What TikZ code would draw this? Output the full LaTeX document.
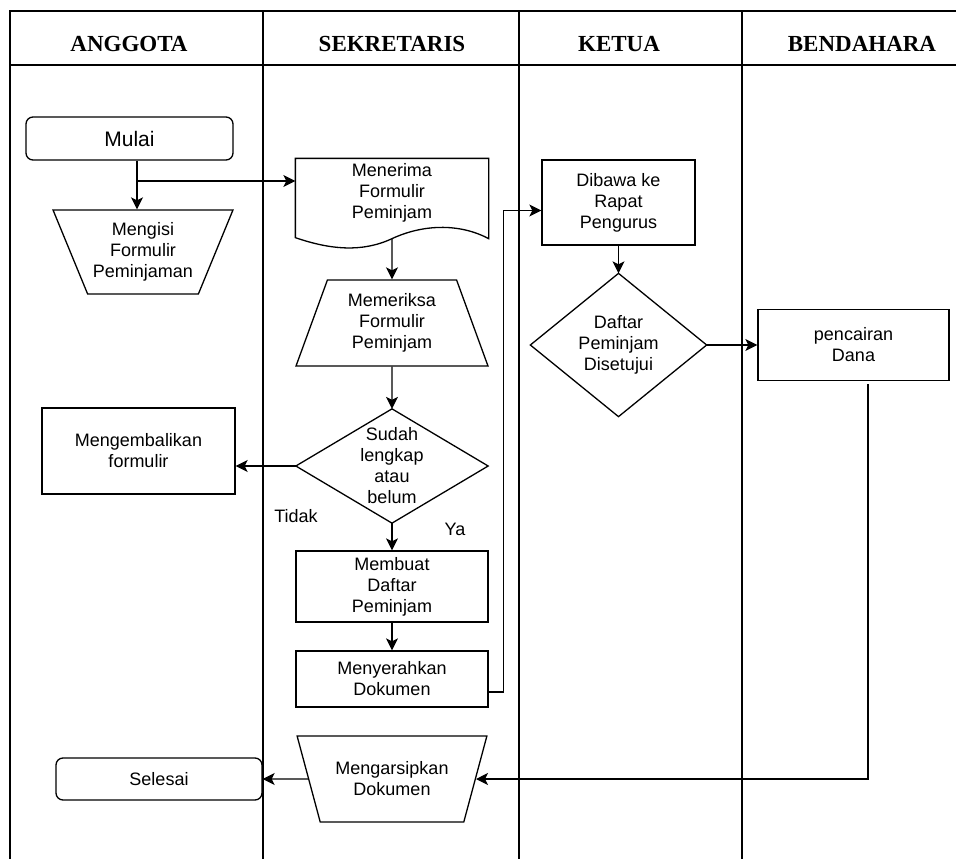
\documentclass[tikz,border=0pt]{standalone}
\usepackage{fontspec}
\setmainfont{Liberation Sans}
\newfontfamily\headfont{Liberation Serif}
\usetikzlibrary{shapes.geometric,arrows.meta,calc}

\begin{document}
\begin{tikzpicture}[
        x=1pt, y=-1pt,
        >={Stealth[length=12pt,width=12pt,inset=3pt]},
        line width=1.3pt,
        every node/.style={font=\fontsize{18}{21}\selectfont, align=center, inner sep=0pt},
        lane/.style={font=\headfont\bfseries\fontsize{23}{27}\selectfont},
        box/.style={draw, rectangle},
        terminal/.style={draw, rectangle, rounded corners=7pt},
        manual/.style={draw, trapezium, trapezium stretches=true,
          trapezium left angle=#1, trapezium right angle=#1},
        manualdown/.style={manual=#1, shape border rotate=180}
    ]
    \useasboundingbox (0,0) rectangle (956,859);

    % Lanes
    \draw (10,859) -- (10,11) -- (956,11);
    \draw (10,65) -- (956,65);
    \foreach \x in {263,519,742}
      \draw (\x,11) -- (\x,859);

    % Lane titles
    \node[lane] at (129,44) {ANGGOTA};
    \node[lane] at (392,44) {SEKRETARIS};
    \node[lane] at (619,44) {KETUA};
    \node[lane] at (862,44) {BENDAHARA};

    % Anggota
    \node[terminal, minimum width=207pt, minimum height=43pt,
      font=\fontsize{21}{25}\selectfont] (mulai) at (129.5,138.5) {Mulai};
    \node[manualdown=62, minimum width=180pt, minimum height=84pt]
      (isi) at (143,252) {Mengisi\\Formulir\\Peminjaman};
    \node[box, minimum width=193pt, minimum height=86pt]
      (kembali) at (138.5,451) {Mengembalikan\\formulir};
    \node[terminal, minimum width=206pt, minimum height=42pt]
      (selesai) at (159,779) {Selesai};

    % Sekretaris
    \node[minimum width=192pt, minimum height=68pt]
      (terima) at (392,193) {Menerima\\Formulir\\Peminjam};
    \draw (terima.south west) -- (terima.north west) -- (terima.north east)
      -- ($(terima.south east)+(0,11)$)
      .. controls +(-30,-16) and +(30,-14) .. ($(terima.south)+(0,11)$)
      .. controls +(-30,14) and +(35,12) .. ($(terima.south west)+(0,10)$)
      -- cycle;
    \coordinate (terima-bot) at ($(terima.south)+(0,11)$);
    \node[manual=70, minimum width=192pt, minimum height=86pt]
      (periksa) at (392,323) {Memeriksa\\Formulir\\Peminjam};
    \node[minimum width=191pt, minimum height=113pt]
      (sudah) at (392,466) {Sudah\\lengkap\\atau\\belum};
    \draw (sudah.north) -- (sudah.east) -- (sudah.south) -- (sudah.west) -- cycle;
    \node[box, minimum width=192pt, minimum height=71pt]
      (buat) at (392,586.5) {Membuat\\Daftar\\Peminjam};
    \node[box, minimum width=192pt, minimum height=56pt]
      (serah) at (392,679) {Menyerahkan\\Dokumen};
    \node[manualdown=62, minimum width=190pt, minimum height=86pt]
      (arsip) at (392,779) {Mengarsipkan\\Dokumen};

    % Ketua
    \node[box, minimum width=153pt, minimum height=85pt]
      (rapat) at (618.5,202.5) {Dibawa ke\\Rapat\\Pengurus};
    \node[minimum width=175pt, minimum height=142pt]
      (setuju) at (618.5,345) {Daftar\\Peminjam\\Disetujui};
    \draw (setuju.north) -- (setuju.east) -- (setuju.south) -- (setuju.west) -- cycle;

    % Bendahara
    \node[box, minimum width=191pt, minimum height=71pt]
      (cair) at (853.5,345) {pencairan\\Dana};

    % Flow
    \coordinate (split) at (137,181);
    \draw[->] (split |- mulai.south) -- (split |- isi.north);
    \draw[->] (split) -- (terima.west |- split);
    \draw[->] (terima-bot) -- (periksa.north);
    \draw[->] (periksa.south) -- (sudah.north);
    \draw[->] (sudah.west) -- (kembali.east |- sudah.west);
    \draw[->] (sudah.south) -- (buat.north);
    \draw[->] (buat.south) -- (serah.north);
    \draw[->] ([yshift=-13pt]serah.east) -- ++(15,0) |- ([yshift=-8pt]rapat.west);
    \draw[->] (rapat.south) -- (setuju.north);
    \draw[->] (setuju.east) -- (cair.west);
    \draw[->] ([xshift=14.5pt,yshift=-3pt]cair.south) |- (arsip.east);
    \draw[->] (arsip.west) -- (selesai.east);

    % Answers
    \node (tidak) at (296,516) {Tidak};
    \node (ya) at (455,529) {Ya};
\end{tikzpicture}
\end{document}
